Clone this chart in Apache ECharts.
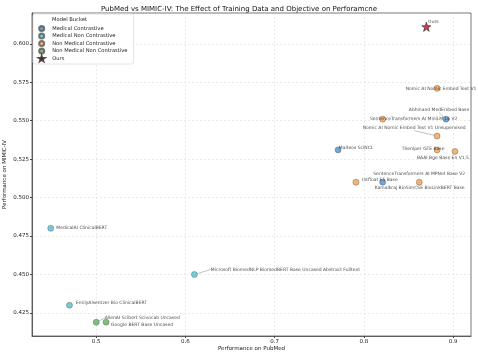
<!DOCTYPE html>
<html>
<head>
<meta charset="utf-8">
<script src="https://cdn.jsdelivr.net/npm/echarts@6/dist/echarts.min.js"></script>
<style>
  html, body { margin: 0; padding: 0; background: #fff; }
  #chart { width: 478px; height: 357px; }
</style>
</head>
<body>
<div id="chart"></div>
<script>
// 数据
var buckets = ["Medical Contrastive", "Medical Non Contrastive", "Non Medical Contrastive", "Non Medical Non Contrastive"];
var bucketColors = ["#4e8fca", "#4fc0cf", "#f3a04e", "#5caf5e"];

var modelNames = [
    "Nomic AI Nomic Embed Text V1",
    "Abhinand MedEmbed Base",
    "SentenceTransformers AI MiniLM L6 V2",
    "Nomic AI Nomic Embed Text V1 Unsupervised",
    "Malteos SciNCL",
    "Thenlper GTE Base",
    "BAAI Bge Base En V1.5",
    "SentenceTransformers AI MPNet Base V2",
    "Intfloat E5 Base",
    "Kamalkraj BioSimCSE BioLinkBERT Base",
    "MedicalAI ClinicalBERT",
    "Microsoft BiomedNLP BiomedBERT Base Uncased Abstract Fulltext",
    "EmilyAlsentzer Bio ClinicalBERT",
    "AllenAI Scibert Scivocab Uncased",
    "Google BERT Base Uncased"
];
var pubmed = [0.882, 0.892, 0.821, 0.882, 0.771, 0.882, 0.902, 0.862, 0.791, 0.821, 0.449, 0.610, 0.470, 0.500, 0.511];
var mimic = [0.571, 0.551, 0.551, 0.540, 0.531, 0.531, 0.530, 0.510, 0.510, 0.510, 0.480, 0.450, 0.430, 0.419, 0.419];
var bucketOf = [2, 0, 2, 2, 0, 2, 2, 2, 2, 0, 1, 1, 1, 3, 3];

var oursName = "Ours";
var oursPoint = [0.870, 0.611];

var xTicks = [0.5, 0.6, 0.7, 0.8, 0.9];
var yTicks = [0.425, 0.45, 0.475, 0.5, 0.525, 0.55, 0.575, 0.6];

// 标签偏移 (像素)
var labelShift = {
    "Nomic AI Nomic Embed Text V1": [4, 0],
    "Abhinand MedEmbed Base": [-7, -9, true],
    "SentenceTransformers AI MiniLM L6 V2": [31, 0],
    "Nomic AI Nomic Embed Text V1 Unsupervised": [-23, -8, true],
    "Malteos SciNCL": [18, -2],
    "Thenlper GTE Base": [-14, -1],
    "BAAI Bge Base En V1.5": [-12, 6],
    "SentenceTransformers AI MPNet Base V2": [0, -8],
    "Intfloat E5 Base": [24, -2],
    "Kamalkraj BioSimCSE BioLinkBERT Base": [37, 6],
    "MedicalAI ClinicalBERT": [31, -1],
    "Microsoft BiomedNLP BiomedBERT Base Uncased Abstract Fulltext": [91, -5, true],
    "EmilyAlsentzer Bio ClinicalBERT": [42, -2],
    "AllenAI Scibert Scivocab Uncased": [46, -4, true],
    "Google BERT Base Uncased": [36, 3],
    "Ours": [7, -5]
};

var starPath = "path://M50,0 L61.8,35.4 L100,35.4 L69.1,57.3 L80.9,93.3 L50,71.4 L19.1,93.3 L30.9,57.3 L0,35.4 L38.2,35.4 Z";

(function () {
    var myChart = echarts.init(document.getElementById("chart"));

    var series = buckets.map(function (b, k) {
        var data = [];
        modelNames.forEach(function (n, i) {
            if (bucketOf[i] === k) {
                var s = labelShift[n];
                data.push({
                    name: n,
                    value: [pubmed[i], mimic[i]],
                    labelLine: { show: !!s[2] }
                });
            }
        });
        return {
            name: b,
            type: "scatter",
            symbolSize: 6,
            data: data,
            itemStyle: { color: bucketColors[k], borderColor: "#555", borderWidth: 0.5 },
            label: {
                show: true,
                position: "inside",
                formatter: "{b}",
                fontSize: 4.5,
                color: "#222",
                fontFamily: "DejaVu Sans"
            },
            labelLine: { lineStyle: { color: "#999", width: 0.6 } },
            labelLayout: function (p) {
                var s = labelShift[p.text] || [0, 0];
                return { dx: s[0], dy: s[1] };
            },
            emphasis: { disabled: true }
        };
    });

    series.push({
        name: oursName,
        type: "scatter",
        symbol: starPath,
        symbolSize: 9,
        data: [{ name: oursName, value: oursPoint }],
        itemStyle: { color: "#c8101b", borderColor: "#222", borderWidth: 0.8 },
        label: {
            show: true,
            position: "inside",
            formatter: "{b}",
            fontSize: 4.5,
            color: "#222",
            fontFamily: "DejaVu Sans"
        },
        labelLayout: function () {
            return { dx: labelShift[oursName][0], dy: labelShift[oursName][1] };
        },
        z: 5
    });

    var option = {
        animation: false,
        textStyle: { fontFamily: "DejaVu Sans" },
        title: {
            text: "PubMed vs MIMIC-IV: The Effect of Training Data and Objective on Perforamcne",
            left: "center",
            top: 1,
            textStyle: { fontSize: 7, fontWeight: "normal", color: "#111" }
        },
        grid: {
            left: 32, right: 7, top: 13, bottom: 21,
            outerBoundsMode: "none",
            containLabel: false,
            show: true, borderColor: "#555", borderWidth: 0.8
        },
        legend: {
            orient: "vertical",
            left: 33,
            top: 14,
            padding: [11, 6, 2, 5],
            itemGap: 0.5,
            itemWidth: 7,
            itemHeight: 5,
            backgroundColor: "#fff",
            borderColor: "#ddd",
            borderWidth: 0.8,
            borderRadius: 2,
            textStyle: { fontSize: 5.2, lineHeight: 6, color: "#222", padding: [0, 0, 0, 2] },
            data: buckets.concat([oursName])
        },
        graphic: [{
            type: "text",
            left: 52,
            top: 17,
            z: 100,
            style: { text: "Model Bucket", fontSize: 5.2, fill: "#222", fontFamily: "DejaVu Sans" }
        }],
        xAxis: {
            type: "value",
            min: 0.428,
            max: 0.92,
            name: "Performance on PubMed",
            nameLocation: "middle",
            nameGap: 10,
            nameMoveOverlap: false,
            nameTextStyle: { fontSize: 5.5, color: "#222" },
            axisLine: { show: true, lineStyle: { color: "#444", width: 0.8 } },
            axisTick: { show: true, length: 2, customValues: xTicks, lineStyle: { color: "#444" } },
            axisLabel: { fontSize: 5.5, color: "#222", margin: 3, customValues: xTicks,
                formatter: function (v) { return String(Math.round(v * 10) / 10); } },
            splitLine: { show: true, lineStyle: { color: "#ddd", type: [2, 2], width: 0.6 } }
        },
        yAxis: {
            type: "value",
            min: 0.41,
            max: 0.62,
            name: "Performance on MIMIC-IV",
            nameLocation: "middle",
            nameGap: 24,
            nameMoveOverlap: false,
            nameTextStyle: { fontSize: 5.5, color: "#222" },
            axisLine: { show: true, lineStyle: { color: "#444", width: 0.8 } },
            axisTick: { show: true, length: 2, customValues: yTicks, lineStyle: { color: "#444" } },
            axisLabel: { fontSize: 5.5, color: "#222", margin: 3, customValues: yTicks,
                formatter: function (v) { return v.toFixed(3); } },
            splitLine: { show: true, lineStyle: { color: "#ddd", type: [2, 2], width: 0.6 } }
        },
        series: series
    };
    myChart.setOption(option);
    window.addEventListener("resize", function () {
        myChart.resize();
    });
})();
</script>
</body>
</html>
